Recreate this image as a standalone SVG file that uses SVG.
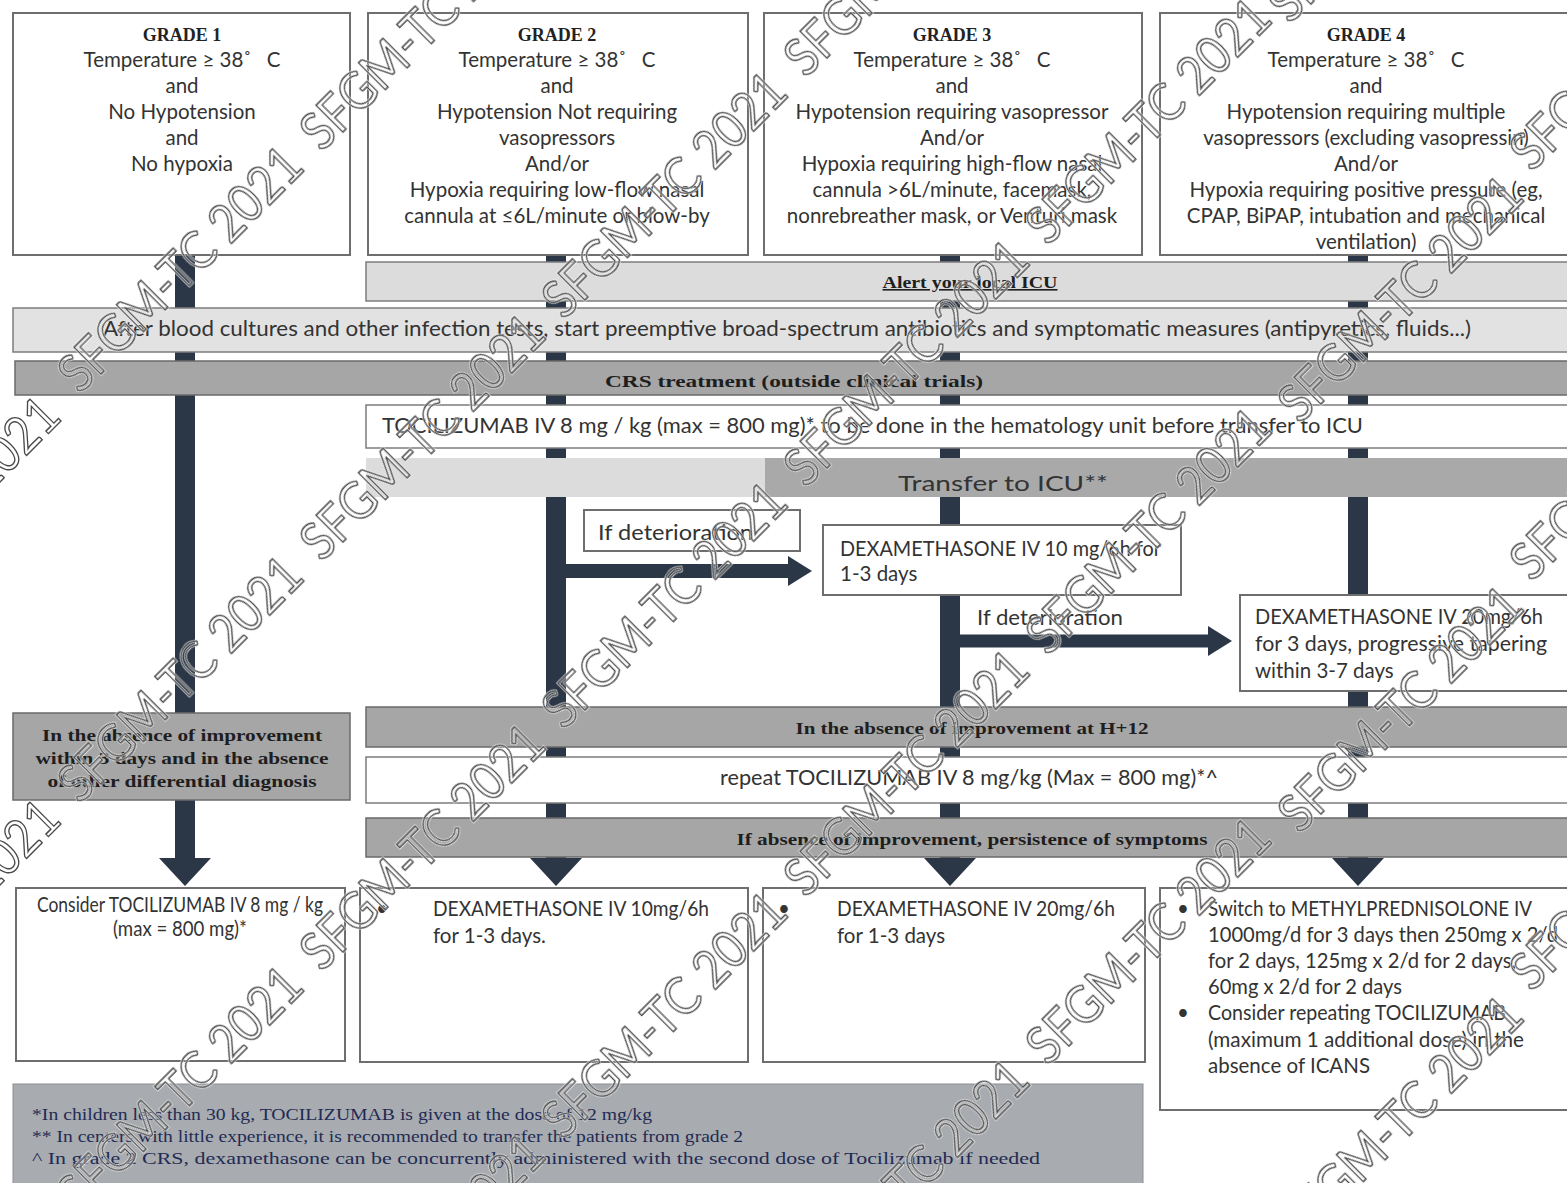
<svg xmlns="http://www.w3.org/2000/svg" xmlns:xlink="http://www.w3.org/1999/xlink" width="1567" height="1183" viewBox="0 0 1567 1183">
<style>
.box{fill:#fff;stroke:#6e6e6e;stroke-width:2}
.lt{fill:#dcdcdc;stroke:#7c7c7c;stroke-width:1.5}
.lt2{fill:#e2e2e2;stroke:#7c7c7c;stroke-width:1.5}
.dk{fill:#a6a6a6;stroke:#6a6a6a;stroke-width:1.5}
.wh{fill:#fff;stroke:#7c7c7c;stroke-width:1.5}
.gt{font-family:Lato,"Open Sans",sans-serif;font-size:20.5px;fill:#333;text-anchor:middle}
.gh{font-family:"Liberation Serif",serif;font-weight:bold;font-size:18px;fill:#222;text-anchor:middle}
.bt{font-family:Lato,"Open Sans",sans-serif;font-size:20.5px;fill:#333}
.sb{font-family:"Liberation Serif",serif;font-weight:bold;font-size:16px;fill:#1e1e1e;text-anchor:middle}
.fn{font-family:"Liberation Serif",serif;font-size:16px;fill:#1f2b55}
.bar{stroke:#2b3646;fill:none}
.wmt{font-family:Lato,"Open Sans",sans-serif;font-size:52px}
</style>
<defs>
<marker id="ahv" markerUnits="userSpaceOnUse" markerWidth="28" markerHeight="52" viewBox="0 0 28 52" refX="0" refY="26" orient="auto"><path d="M0,0 L28,26 L0,52 Z" fill="#2b3646"/></marker>
<marker id="ahh" markerUnits="userSpaceOnUse" markerWidth="24" markerHeight="30" viewBox="0 0 24 30" refX="0" refY="15" orient="auto"><path d="M0,0 L24,15 L0,30 Z" fill="#2b3646"/></marker>
<g id="wmset" class="wmt">
<text transform="translate(-163,645) rotate(-45)" textLength="320" lengthAdjust="spacingAndGlyphs">SFGM-TC 2021</text>
<text transform="translate(80,395) rotate(-45)" textLength="320" lengthAdjust="spacingAndGlyphs">SFGM-TC 2021</text>
<text transform="translate(322,153) rotate(-45)" textLength="320" lengthAdjust="spacingAndGlyphs">SFGM-TC 2021</text>
<text transform="translate(-163,1048) rotate(-45)" textLength="320" lengthAdjust="spacingAndGlyphs">SFGM-TC 2021</text>
<text transform="translate(80,805) rotate(-45)" textLength="320" lengthAdjust="spacingAndGlyphs">SFGM-TC 2021</text>
<text transform="translate(322,563) rotate(-45)" textLength="320" lengthAdjust="spacingAndGlyphs">SFGM-TC 2021</text>
<text transform="translate(564,321) rotate(-45)" textLength="320" lengthAdjust="spacingAndGlyphs">SFGM-TC 2021</text>
<text transform="translate(806,79) rotate(-45)" textLength="320" lengthAdjust="spacingAndGlyphs">SFGM-TC 2021</text>
<text transform="translate(80,1215) rotate(-45)" textLength="320" lengthAdjust="spacingAndGlyphs">SFGM-TC 2021</text>
<text transform="translate(322,973) rotate(-45)" textLength="320" lengthAdjust="spacingAndGlyphs">SFGM-TC 2021</text>
<text transform="translate(564,731) rotate(-45)" textLength="320" lengthAdjust="spacingAndGlyphs">SFGM-TC 2021</text>
<text transform="translate(806,489) rotate(-45)" textLength="320" lengthAdjust="spacingAndGlyphs">SFGM-TC 2021</text>
<text transform="translate(1048,247) rotate(-45)" textLength="320" lengthAdjust="spacingAndGlyphs">SFGM-TC 2021</text>
<text transform="translate(1290,25) rotate(-45)" textLength="320" lengthAdjust="spacingAndGlyphs">SFGM-TC 2021</text>
<text transform="translate(322,1383) rotate(-45)" textLength="320" lengthAdjust="spacingAndGlyphs">SFGM-TC 2021</text>
<text transform="translate(564,1141) rotate(-45)" textLength="320" lengthAdjust="spacingAndGlyphs">SFGM-TC 2021</text>
<text transform="translate(806,899) rotate(-45)" textLength="320" lengthAdjust="spacingAndGlyphs">SFGM-TC 2021</text>
<text transform="translate(1048,657) rotate(-45)" textLength="320" lengthAdjust="spacingAndGlyphs">SFGM-TC 2021</text>
<text transform="translate(1300,425) rotate(-45)" textLength="320" lengthAdjust="spacingAndGlyphs">SFGM-TC 2021</text>
<text transform="translate(1532,173) rotate(-45)" textLength="320" lengthAdjust="spacingAndGlyphs">SFGM-TC 2021</text>
<text transform="translate(806,1309) rotate(-45)" textLength="320" lengthAdjust="spacingAndGlyphs">SFGM-TC 2021</text>
<text transform="translate(1048,1067) rotate(-45)" textLength="320" lengthAdjust="spacingAndGlyphs">SFGM-TC 2021</text>
<text transform="translate(1300,835) rotate(-45)" textLength="320" lengthAdjust="spacingAndGlyphs">SFGM-TC 2021</text>
<text transform="translate(1532,583) rotate(-45)" textLength="320" lengthAdjust="spacingAndGlyphs">SFGM-TC 2021</text>
<text transform="translate(1300,1245) rotate(-45)" textLength="320" lengthAdjust="spacingAndGlyphs">SFGM-TC 2021</text>
<text transform="translate(1532,993) rotate(-45)" textLength="320" lengthAdjust="spacingAndGlyphs">SFGM-TC 2021</text>
</g>
</defs>
<rect width="1567" height="1183" fill="#fff"/>

<g id="connectors">
<line class="bar" x1="185" y1="255" x2="185" y2="858" stroke-width="20" marker-end="url(#ahv)"/>
<line class="bar" x1="556" y1="255" x2="556" y2="858" stroke-width="20" marker-end="url(#ahv)"/>
<line class="bar" x1="950" y1="255" x2="950" y2="858" stroke-width="20" marker-end="url(#ahv)"/>
<line class="bar" x1="1358" y1="255" x2="1358" y2="858" stroke-width="20" marker-end="url(#ahv)"/>
<line class="bar" x1="566" y1="571" x2="788" y2="571" stroke-width="14" marker-end="url(#ahh)"/>
<line class="bar" x1="960" y1="641" x2="1208" y2="641" stroke-width="13" marker-end="url(#ahh)"/>
</g>

<g id="grade1">
<rect class="box" x="13" y="13" width="337" height="242"/>
<text class="gh" x="182" y="41">GRADE 1</text>
<text class="gt" x="182" y="67">Temperature ≥ 38˚ <tspan dx="10">C</tspan></text>
<text class="gt" x="182" y="93">and</text>
<text class="gt" x="182" y="119">No Hypotension</text>
<text class="gt" x="182" y="145">and</text>
<text class="gt" x="182" y="171">No hypoxia</text>
</g>
<g id="grade2">
<rect class="box" x="368" y="13" width="380" height="242"/>
<text class="gh" x="557" y="41">GRADE 2</text>
<text class="gt" x="557" y="67">Temperature ≥ 38˚ <tspan dx="10">C</tspan></text>
<text class="gt" x="557" y="93">and</text>
<text class="gt" x="557" y="119">Hypotension Not requiring</text>
<text class="gt" x="557" y="145">vasopressors</text>
<text class="gt" x="557" y="171">And/or</text>
<text class="gt" x="557" y="197">Hypoxia requiring low-flow nasal</text>
<text class="gt" x="557" y="223">cannula at ≤6L/minute or blow-by</text>
</g>
<g id="grade3">
<rect class="box" x="764" y="13" width="378" height="242"/>
<text class="gh" x="952" y="41">GRADE 3</text>
<text class="gt" x="952" y="67">Temperature ≥ 38˚ <tspan dx="10">C</tspan></text>
<text class="gt" x="952" y="93">and</text>
<text class="gt" x="952" y="119">Hypotension requiring vasopressor</text>
<text class="gt" x="952" y="145">And/or</text>
<text class="gt" x="952" y="171">Hypoxia requiring high-flow nasal</text>
<text class="gt" x="952" y="197">cannula &gt;6L/minute, facemask,</text>
<text class="gt" x="952" y="223">nonrebreather mask, or Venturi mask</text>
</g>
<g id="grade4">
<rect class="box" x="1160" y="13" width="420" height="242"/>
<text class="gh" x="1366" y="41">GRADE 4</text>
<text class="gt" x="1366" y="67">Temperature ≥ 38˚ <tspan dx="10">C</tspan></text>
<text class="gt" x="1366" y="93">and</text>
<text class="gt" x="1366" y="119">Hypotension requiring multiple</text>
<text class="gt" x="1366" y="145">vasopressors (excluding vasopressin)</text>
<text class="gt" x="1366" y="171">And/or</text>
<text class="gt" x="1366" y="197">Hypoxia requiring positive pressure (eg,</text>
<text class="gt" x="1366" y="223">CPAP, BiPAP, intubation and mechanical</text>
<text class="gt" x="1366" y="249">ventilation)</text>
</g>

<g id="alert-icu">
<rect class="lt" x="366" y="262" width="1214" height="39"/>
<text class="sb" x="970" y="288" text-decoration="underline" textLength="175" lengthAdjust="spacingAndGlyphs">Alert your local ICU</text>
</g>
<g id="antibiotics">
<rect class="lt2" x="13" y="308" width="1567" height="44"/>
<text class="gt" x="787" y="336" font-size="19.5" textLength="1368" lengthAdjust="spacingAndGlyphs">After blood cultures and other infection tests, start preemptive  broad-spectrum  antibiotics and symptomatic measures (antipyretics,  fluids...)</text>
</g>
<g id="crs-treatment">
<rect class="dk" x="15" y="361" width="1565" height="34"/>
<text class="sb" x="794" y="387" font-size="18" textLength="378" lengthAdjust="spacingAndGlyphs">CRS treatment (outside clinical trials)</text>
</g>
<g id="tocilizumab">
<rect class="wh" x="366" y="405" width="1214" height="43"/>
<text class="bt" x="382" y="433" font-size="19.5" textLength="981" lengthAdjust="spacingAndGlyphs">TOCILIZUMAB IV 8 mg / kg (max = 800 mg)*  to be done in the hematology unit before transfer to ICU</text>
</g>
<g id="transfer-icu">
<rect x="366" y="458" width="400" height="39" fill="#dcdcdc"/>
<rect x="765" y="458" width="815" height="39" fill="#a9a9a9"/>
<text class="bt" x="898" y="491" font-size="29" textLength="210" lengthAdjust="spacingAndGlyphs">Transfer to ICU**</text>
</g>
<g id="if-deterioration-1">
<rect class="box" x="584" y="510" width="216" height="41" stroke-width="1.5"/>
<text class="bt" x="598" y="540" textLength="155" lengthAdjust="spacingAndGlyphs">If  deterioration</text>
</g>
<g id="dexa-10">
<rect class="box" x="823" y="525" width="358" height="70" stroke-width="1.5"/>
<text class="bt" x="840" y="556" textLength="321" lengthAdjust="spacingAndGlyphs">DEXAMETHASONE IV 10 mg/6h for</text>
<text class="bt" x="840" y="581">1-3 days</text>
</g>
<g id="if-deterioration-2">
<text class="bt" x="977" y="625" textLength="146" lengthAdjust="spacingAndGlyphs">If deterioration</text>
</g>
<g id="dexa-20">
<rect class="box" x="1240" y="595" width="340" height="96" stroke-width="1.5"/>
<text class="bt" x="1255" y="624" textLength="288" lengthAdjust="spacingAndGlyphs">DEXAMETHASONE IV 20mg/6h</text>
<text class="bt" x="1255" y="651" textLength="292" lengthAdjust="spacingAndGlyphs">for 3 days, progressive tapering</text>
<text class="bt" x="1255" y="678">within 3-7 days</text>
</g>
<g id="grade1-no-improvement">
<rect class="dk" x="13" y="713" width="337" height="87"/>
<text class="sb" x="182" y="741" textLength="280" lengthAdjust="spacingAndGlyphs">In the absence of improvement</text>
<text class="sb" x="182" y="764" textLength="293" lengthAdjust="spacingAndGlyphs">within 3 days and in the absence</text>
<text class="sb" x="182" y="787" textLength="269" lengthAdjust="spacingAndGlyphs">of other differential diagnosis</text>
</g>
<g id="no-improvement-h12">
<rect class="dk" x="366" y="707" width="1214" height="40"/>
<text class="sb" x="972" y="734" textLength="353" lengthAdjust="spacingAndGlyphs">In the absence of improvement at H+12</text>
</g>
<g id="repeat-tocilizumab">
<rect class="wh" x="366" y="757" width="1214" height="46"/>
<text class="gt" x="969" y="785" font-size="19.5" textLength="498" lengthAdjust="spacingAndGlyphs">repeat TOCILIZUMAB IV 8 mg/kg  (Max = 800 mg)*^</text>
</g>
<g id="persistence">
<rect class="dk" x="366" y="818" width="1214" height="39"/>
<text class="sb" x="972" y="845" textLength="471" lengthAdjust="spacingAndGlyphs">If absence of improvement, persistence of symptoms</text>
</g>

<g id="out-grade1">
<rect class="box" x="16" y="888" width="329" height="173"/>
<text class="gt" x="180" y="912" font-size="14" textLength="286" lengthAdjust="spacingAndGlyphs">Consider TOCILIZUMAB IV 8 mg / kg</text>
<text class="gt" x="180" y="936" font-size="14" textLength="134" lengthAdjust="spacingAndGlyphs">(max = 800 mg)*</text>
</g>
<g id="out-grade2">
<rect class="box" x="360" y="888" width="388" height="174"/>
<text class="bt" x="376" y="916">•</text>
<text class="bt" x="433" y="916" textLength="276" lengthAdjust="spacingAndGlyphs">DEXAMETHASONE IV 10mg/6h</text>
<text class="bt" x="433" y="943">for 1-3 days.</text>
</g>
<g id="out-grade3">
<rect class="box" x="763" y="888" width="382" height="174"/>
<text class="bt" x="778" y="916">•</text>
<text class="bt" x="837" y="916" textLength="278" lengthAdjust="spacingAndGlyphs">DEXAMETHASONE IV 20mg/6h</text>
<text class="bt" x="837" y="943">for 1-3 days</text>
</g>
<g id="out-grade4">
<rect class="box" x="1160" y="888" width="420" height="222"/>
<text class="bt" x="1177" y="916">•</text>
<text class="bt" x="1208" y="916" textLength="324" lengthAdjust="spacingAndGlyphs">Switch to METHYLPREDNISOLONE IV</text>
<text class="bt" x="1208" y="942" textLength="350" lengthAdjust="spacingAndGlyphs">1000mg/d for 3 days then 250mg x 2/d</text>
<text class="bt" x="1208" y="968" textLength="308" lengthAdjust="spacingAndGlyphs">for 2 days, 125mg x 2/d for 2 days,</text>
<text class="bt" x="1208" y="994" textLength="194" lengthAdjust="spacingAndGlyphs">60mg x 2/d for 2 days</text>
<text class="bt" x="1177" y="1020">•</text>
<text class="bt" x="1208" y="1020" textLength="298" lengthAdjust="spacingAndGlyphs">Consider repeating TOCILIZUMAB</text>
<text class="bt" x="1208" y="1047" textLength="316" lengthAdjust="spacingAndGlyphs">(maximum 1 additional dose) in the</text>
<text class="bt" x="1208" y="1073">absence of ICANS</text>
</g>
<g id="footnotes">
<rect x="13" y="1084" width="1130" height="110" fill="#a8abaf" stroke="#8a8d91" stroke-width="1"/>
<text class="fn" x="32" y="1120" textLength="620" lengthAdjust="spacingAndGlyphs">*In children less than 30 kg, TOCILIZUMAB is given at the dose of 12 mg/kg</text>
<text class="fn" x="32" y="1142" textLength="711" lengthAdjust="spacingAndGlyphs">** In centers with little experience, it is recommended to transfer the patients from grade 2</text>
<text class="fn" x="32" y="1164" textLength="1008" lengthAdjust="spacingAndGlyphs">^ In grade 2 CRS, dexamethasone can be concurrently administered with the second dose of Tocilizumab if needed</text>
</g>

<g id="watermark">
<use xlink:href="#wmset" fill="none" stroke="#fff" stroke-width="3" opacity="0.75"/>
<use xlink:href="#wmset" fill="none" stroke="#4a4a4a" stroke-width="1.4"/>
</g>
</svg>
